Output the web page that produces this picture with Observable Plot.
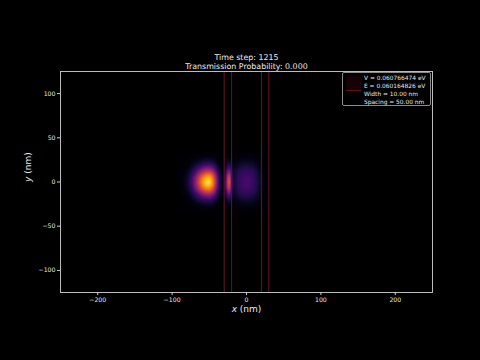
<!DOCTYPE html>
<html>
<head>
<meta charset="utf-8">
<script src="https://cdn.jsdelivr.net/npm/d3@7"></script>
<script src="https://cdn.jsdelivr.net/npm/@observablehq/plot@0.6"></script>
<style>
  html, body { margin: 0; padding: 0; background: #000; }
  #wrap { position: relative; width: 480px; height: 360px; background: #000; overflow: hidden; }
  #legend { position: absolute; left: 342px; top: 72px; width: 89px; height: 34px;
    border: 0.8px solid #8a8a8a; border-radius: 2px; box-sizing: border-box;
    font-family: "DejaVu Sans", sans-serif; font-size: 5.9px; color: #e8e8e8; }
  #legend .row { position: absolute; left: 21px; white-space: nowrap; line-height: 8px; }
  #legend .sw1 { position: absolute; left: 3px; top: 3px; width: 15px; height: 14px; background: #160204; }
  #legend .sw2 { position: absolute; left: 3px; top: 17px; width: 15px; height: 1px; background: #5e121c; }
</style>
</head>
<body>
<div id="wrap"></div>
<script>
// ---- data ----
const titleLines = ["Time step: 1215", "Transmission Probability: 0.000"];
const legendLines = ["V = 0.060766474 eV", "E = 0.060164826 eV", "Width = 10.00 nm", "Spacing = 50.00 nm"];
const xTicks = [-200, -100, 0, 100, 200];
const yTicks = [-100, -50, 0, 50, 100];
const barrierEdges = [-30, -20, 20, 30];

// probability density along y = 0 (relative), sampled every 2.5 nm
const profileX = [-92.5, -90, -87.5, -85, -82.5, -80, -77.5, -75, -72.5, -70, -67.5, -65, -62.5, -60, -57.5, -55, -52.5, -50, -47.5, -45, -42.5, -40, -37.5, -35, -32.5, -30, -27.5, -25, -22.5, -20, -17.5, -15, -12.5, -10, -7.5, -5, -2.5, 0, 2.5, 5, 7.5, 10, 12.5, 15, 17.5, 20, 22.5, 25, 27.5, 30];
const densityX = [0, 0.01, 0.02, 0.035, 0.055, 0.08, 0.12, 0.18, 0.26, 0.35, 0.46, 0.57, 0.68, 0.79, 0.88, 0.95, 0.99, 0.98, 0.91, 0.78, 0.6, 0.4, 0.22, 0.1, 0.05, 0.08, 0.3, 0.6, 0.65, 0.28, 0.1, 0.12, 0.15, 0.18, 0.2, 0.215, 0.225, 0.23, 0.225, 0.215, 0.2, 0.18, 0.15, 0.12, 0.08, 0.05, 0.03, 0.01, 0, 0];
// relative transverse profiles, sampled every 4 nm (left packet / packet between barriers)
const profileY = [-36, -32, -28, -24, -20, -16, -12, -8, -4, 0, 4, 8, 12, 16, 20, 24, 28, 32, 36];
const densityYLeft = [0, 0.015, 0.04, 0.1, 0.2, 0.36, 0.56, 0.78, 0.94, 1, 0.94, 0.78, 0.56, 0.36, 0.2, 0.1, 0.04, 0.015, 0];
const densityYMid = [0, 0.05, 0.12, 0.25, 0.42, 0.6, 0.78, 0.9, 0.97, 1, 0.97, 0.9, 0.78, 0.6, 0.42, 0.25, 0.12, 0.05, 0];

// table for the raster
const grid = [];
profileX.forEach((x, i) => profileY.forEach((y, j) => grid.push({
  x, y, v: densityX[i] * (x > -20 ? densityYMid[j] : densityYLeft[j])
})));

const fmt = d => d < 0 ? "\u2212" + Math.abs(d) : String(d);

const plot = Plot.plot({
  width: 480,
  height: 360,
  marginTop: 71,
  marginBottom: 68,
  marginLeft: 60,
  marginRight: 48,
  style: {background: "#000", color: "#e0e0e0", fontFamily: "DejaVu Sans, sans-serif", fontSize: "6.2px"},
  x: {domain: [-250, 250], label: null},
  y: {domain: [-125, 125], label: null},
  color: {type: "linear", scheme: "inferno", domain: [0, 1.08], clamp: true},
  marks: [
    Plot.raster(grid, {x: "x", y: "y", fill: "v", interpolate: "barycentric",
      x1: -94, x2: 32, y1: -38, y2: 38, pixelSize: 1}),
    Plot.ruleX(barrierEdges, {stroke: "#6a1420", strokeWidth: 1}),
    Plot.frame({stroke: "#d0d0d0", strokeWidth: 0.9}),
    Plot.axisX(xTicks, {ticks: xTicks, tickSize: 3, tickPadding: 2, stroke: "#d0d0d0", fill: "#e6e6e6", tickFormat: fmt, label: null}),
    Plot.axisY(yTicks, {ticks: yTicks, tickSize: 3, tickPadding: 2, stroke: "#d0d0d0", fill: "#e6e6e6", tickFormat: fmt, label: null}),
    Plot.text([titleLines[0]], {text: d => d, frameAnchor: "top", dy: -17.5, fontSize: 7.9, fill: "#ececec"}),
    Plot.text([titleLines[1]], {text: d => d, frameAnchor: "top", dy: -8.5, fontSize: 7.9, fill: "#ececec"}),
    Plot.text(["x (nm)"], {text: d => d, frameAnchor: "bottom", dy: 19, fontSize: 9, fill: "#ececec"}),
    Plot.text(["y (nm)"], {text: d => d, frameAnchor: "left", dx: -32, rotate: -90, fontSize: 9, fill: "#ececec"})
  ]
});

// italic variable names
plot.querySelectorAll("text").forEach(t => {
  const s = t.textContent;
  if (s === "x (nm)" || s === "y (nm)") {
    const v = s[0];
    t.textContent = "";
    const it = document.createElementNS("http://www.w3.org/2000/svg", "tspan");
    it.setAttribute("font-style", "italic");
    it.textContent = v;
    t.appendChild(it);
    t.appendChild(document.createTextNode(" (nm)"));
  }
});

const wrap = document.getElementById("wrap");
wrap.appendChild(plot);

const legend = document.createElement("div");
legend.id = "legend";
legend.innerHTML = '<div class="sw1"></div><div class="sw2"></div>' +
  legendLines.map((l, i) => `<div class="row" style="top:${1 + i * 8}px">${l}</div>`).join("");
wrap.appendChild(legend);
</script>
</body>
</html>
